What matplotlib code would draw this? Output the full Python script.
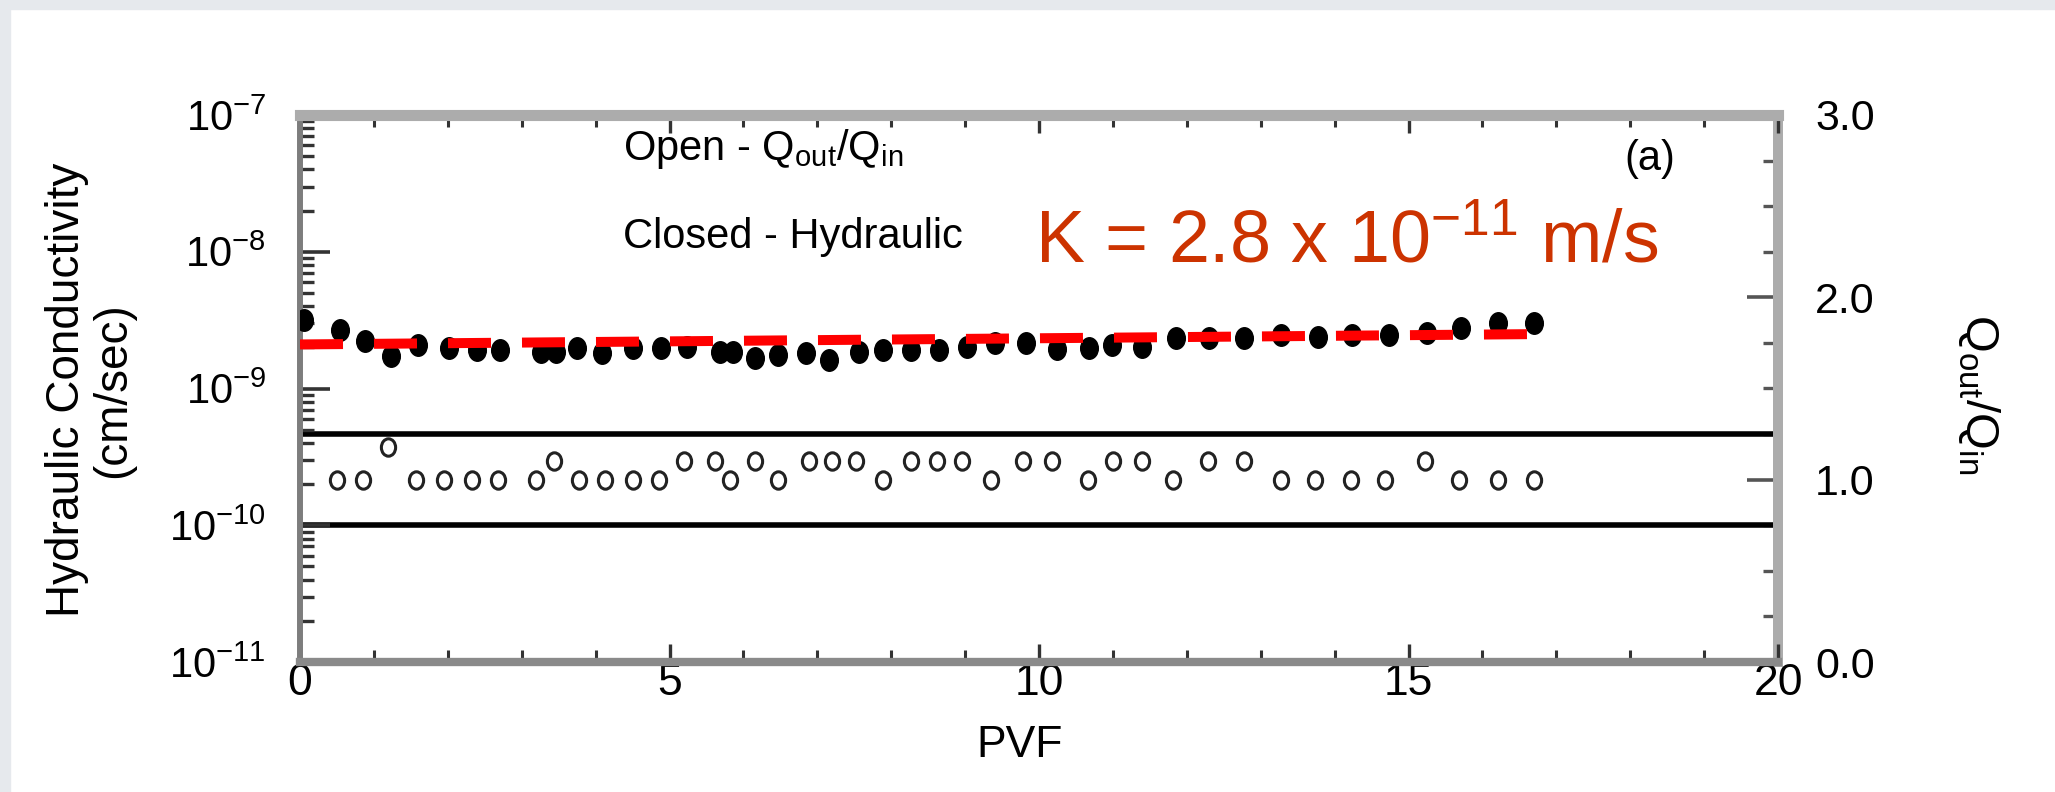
import matplotlib
matplotlib.use("Agg")
import matplotlib.pyplot as plt
import numpy as np
from matplotlib.path import Path
from matplotlib.markers import MarkerStyle
from matplotlib.patches import Rectangle
from matplotlib.ticker import MultipleLocator, FormatStrFormatter, LogLocator

plt.rcParams['font.family'] = ['Liberation Sans', 'DejaVu Sans']
plt.rcParams['mathtext.default'] = 'regular'

# closed symbols - hydraulic conductivity (cm/sec), left log axis
pvf_closed = [0.05, 0.54, 0.88, 1.23, 1.60, 2.02, 2.40, 2.71, 3.26, 3.47,
              3.75, 4.09, 4.51, 4.89, 5.24, 5.69, 5.86, 6.16, 6.47, 6.85,
              7.16, 7.56, 7.89, 8.27, 8.65, 9.03, 9.41, 9.83, 10.24, 10.68,
              10.99, 11.39, 11.85, 12.30, 12.78, 13.28, 13.77, 14.23, 14.73, 15.25,
              15.71, 16.21, 16.70]
k_closed = [3.17e-9, 2.68e-9, 2.22e-9, 1.73e-9, 2.08e-9, 1.98e-9, 1.91e-9, 1.91e-9, 1.85e-9, 1.85e-9,
            1.98e-9, 1.82e-9, 1.98e-9, 1.98e-9, 2.02e-9, 1.85e-9, 1.85e-9, 1.67e-9, 1.76e-9, 1.82e-9,
            1.62e-9, 1.85e-9, 1.91e-9, 1.91e-9, 1.91e-9, 2.02e-9, 2.15e-9, 2.15e-9, 1.95e-9, 1.98e-9,
            2.08e-9, 2.02e-9, 2.34e-9, 2.34e-9, 2.34e-9, 2.46e-9, 2.40e-9, 2.46e-9, 2.46e-9, 2.53e-9,
            2.77e-9, 3.01e-9, 3.01e-9]

# open symbols - Qout/Qin, right axis
pvf_open = [0.50, 0.85, 1.19, 1.57, 1.95, 2.33, 2.68, 3.20, 3.44, 3.78,
            4.13, 4.51, 4.86, 5.20, 5.62, 5.82, 6.16, 6.47, 6.89, 7.20,
            7.52, 7.89, 8.27, 8.62, 8.96, 9.35, 9.79, 10.17, 10.66, 11.00,
            11.39, 11.82, 12.29, 12.78, 13.28, 13.74, 14.22, 14.68, 15.22, 15.69,
            16.21, 16.70]
q_ratio = [1.0, 1.0, 1.18, 1.0, 1.0, 1.0, 1.0, 1.0, 1.1, 1.0,
           1.0, 1.0, 1.0, 1.1, 1.1, 1.0, 1.1, 1.0, 1.1, 1.1,
           1.1, 1.0, 1.1, 1.1, 1.1, 1.0, 1.1, 1.1, 1.0, 1.1,
           1.1, 1.0, 1.1, 1.1, 1.0, 1.0, 1.0, 1.0, 1.1, 1.0,
           1.0, 1.0]

fit_pvf = [0.0, 16.75]
fit_k = [2.1e-9, 2.5e-9]
bound_lines = [0.75, 1.25]

left_ticks = [1e-11, 1e-10, 1e-9, 1e-8, 1e-7]
right_ticks = [0.0, 1.0, 2.0, 3.0]
x_ticks = [0, 5, 10, 15, 20]

# slightly tall ellipse marker (the scanned figure is stretched vertically)
circ = Path.unit_circle()
oval = MarkerStyle(Path(circ.vertices * [0.82, 1.0], circ.codes))

fig = plt.figure(figsize=(20.55, 7.92), dpi=100)
fig.patches.append(Rectangle((0, 1 - 9 / 792), 1, 9 / 792, transform=fig.transFigure,
                             color='#e6e9ed', zorder=-5))
fig.patches.append(Rectangle((0, 0), 10 / 2055, 1, transform=fig.transFigure,
                             color='#e6e9ed', zorder=-5))

ax = fig.add_axes([300 / 2055, 1 - 662 / 792, 1478 / 2055, 547 / 792])
ax2 = ax.twinx()

ax.set_yscale('log')
ax.set_ylim(1e-11, 1e-7)
ax.set_xlim(0, 20)
ax2.set_ylim(0, 3)

for y in bound_lines:
    ax2.axhline(y, color='black', lw=4, zorder=2)

ax2.plot(pvf_open, q_ratio, linestyle='none', marker=oval, ms=12.5,
         mfc='none', mec='#222222', mew=2.2, zorder=3)
ax.plot(pvf_closed, k_closed, linestyle='none', marker=oval, ms=15.5,
        mfc='black', mec='black', mew=1, zorder=3)
ax.plot(fit_pvf, fit_k, color='#ff0000', lw=7.2, dashes=(4.3, 3.1), zorder=6)
ax.set_zorder(ax2.get_zorder() + 1)
ax.patch.set_visible(False)

# axes styling
ax.spines['left'].set(color='#7d7d7d', lw=4.3)
ax.spines['bottom'].set(color='#8a8a8a', lw=6)
ax.spines['top'].set(color='#acacac', lw=8)
ax.spines['right'].set_visible(False)
for s in ['left', 'top', 'bottom']:
    ax2.spines[s].set_visible(False)
ax2.spines['right'].set(color='#acacac', lw=7.2)

ax.set_xticks(x_ticks)
ax.xaxis.set_minor_locator(MultipleLocator(1))
ax.set_yticks(left_ticks)
ax.yaxis.set_minor_locator(LogLocator(base=10, subs=np.arange(2, 10)))
ax.tick_params(axis='x', which='both', direction='in', top=True, bottom=True,
               labelsize=32, pad=1, color='#333333')
ax.tick_params(axis='x', which='major', length=13, width=2.4)
ax.tick_params(axis='x', which='minor', length=8.6, width=2.2)
ax.tick_params(axis='y', which='both', direction='in', left=True, right=False,
               labelsize=30, pad=24.5, color='#333333')
ax.tick_params(axis='y', which='major', length=21.6, width=2.6)
ax.tick_params(axis='y', which='minor', length=10, width=2.4)

ax2.set_yticks(right_ticks)
ax2.yaxis.set_major_formatter(FormatStrFormatter('%.1f'))
ax2.yaxis.set_minor_locator(MultipleLocator(0.25))
ax2.tick_params(axis='y', which='both', direction='in', labelsize=31, pad=26.6,
                color='#555555')
ax2.tick_params(axis='y', which='major', length=22, width=2.6)
ax2.tick_params(axis='y', which='minor', length=11, width=2.4)

ax.set_xlabel('PVF', fontsize=32)
ax.xaxis.set_label_coords(0.487, -0.115)
ax.set_ylabel('Hydraulic Conductivity\n(cm/sec)', fontsize=33, va='center',
              linespacing=1.05)
ax.yaxis.set_label_coords(-0.142, 0.497)
ax2.set_ylabel(r'Q$_{out}$/Q$_{in}$', fontsize=34, rotation=270, va='center')
ax2.yaxis.set_label_coords(1.136, 0.49)

ax.text(0.2185, 0.9177, r'Open - Q$_{out}$/Q$_{in}$', transform=ax.transAxes,
        fontsize=30, va='baseline', ha='left')
ax.text(0.2185, 0.757, 'Closed - Hydraulic', transform=ax.transAxes,
        fontsize=30, va='baseline', ha='left')
ax.text(0.9134, 0.90, '(a)', transform=ax.transAxes,
        fontsize=30, va='baseline', ha='center')
ax.text(0.4973, 0.7313, r'K = 2.8 x 10$^{-11}$ m/s', transform=ax.transAxes,
        fontsize=53, va='baseline', ha='left', color='#cc3300')

fig.savefig('out.png', dpi=100)
